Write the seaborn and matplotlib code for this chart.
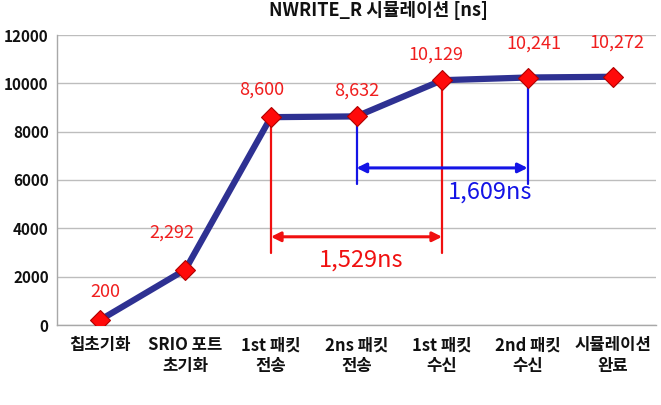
import matplotlib
matplotlib.use("Agg")
import matplotlib.pyplot as plt
import seaborn as sns
import pandas as pd
import numpy as np

# ---- data ----
categories = ["칩초기화", "SRIO 포트\n초기화", "1st 패킷\n전송", "2ns 패킷\n전송",
              "1st 패킷\n수신", "2nd 패킷\n수신", "시뮬레이션\n완료"]
times_ns = [200, 2292, 8600, 8632, 10129, 10241, 10272]
y_ticks = [0, 2000, 4000, 6000, 8000, 10000, 12000]
title = "NWRITE_R 시뮬레이션 [ns]"

# label offsets in pixels (dx, dy) - styling only
label_offsets_px = [(6, 28), (-14, 37), (-9, 28), (0, 26), (-6, 26), (6, 34), (4, 34)]

sns.set_theme(style="white")
plt.rcParams['font.family'] = ['Noto Sans CJK KR', 'DejaVu Sans']

df = pd.DataFrame({"pos": np.arange(len(categories)), "time": times_ns})

W, H = 661, 405
fig = plt.figure(figsize=(W / 100, H / 100), dpi=100)
ax = fig.add_axes([57 / W, (H - 325) / H, (656 - 57) / W, (325 - 35) / H])

line_color = "#2E3192"
sns.lineplot(data=df, x="pos", y="time", ax=ax, color=line_color, linewidth=4.5,
             marker="D", markersize=10, markerfacecolor="#FF0A0A",
             markeredgecolor="#B00000", markeredgewidth=0.8, zorder=5)

ax.set_xlim(-0.5, len(categories) - 0.5)
ax.set_ylim(0, 12000)
ax.set_yticks(y_ticks)
ax.set_yticklabels([str(t) for t in y_ticks], fontsize=11, fontweight="bold", color="#111111")
ax.set_xticks(np.arange(len(categories)))
ax.set_xticklabels(categories, fontsize=12, fontweight="bold", color="#111111", linespacing=1.2)
ax.set_xticks(np.arange(-0.5, len(categories)), minor=True)
ax.tick_params(axis="x", which="major", length=0, pad=8)
ax.tick_params(axis="x", which="minor", length=5, color="#A8A8A8", width=1, direction="out")
ax.tick_params(axis="y", length=4, color="#A8A8A8", width=1, direction="out", pad=2)
ax.set_xlabel("")
ax.set_ylabel("")

ax.grid(axis="y", color="#BDBDBD", linewidth=1)
ax.set_axisbelow(True)
for s in ["top", "right"]:
    ax.spines[s].set_visible(False)
for s in ["left", "bottom"]:
    ax.spines[s].set_color("#A8A8A8")
    ax.spines[s].set_linewidth(1)

# data labels
for i, v in enumerate(times_ns):
    dx, dy = label_offsets_px[i]
    ax.annotate(f"{v:,}", (i, v), xytext=(dx * 0.72, dy * 0.72), textcoords="offset points",
                ha="center", va="center", color="#F01E1E", fontsize=13, zorder=6)

# red interval (1st send -> 1st receive)
red = "#F01010"
d1 = times_ns[4] - times_ns[2]
ax.plot([2, 2], [times_ns[2], 2980], color=red, lw=1.6, zorder=3)
ax.plot([4, 4], [times_ns[4], 2980], color=red, lw=1.6, zorder=3)
ax.annotate("", xy=(4, 3650), xytext=(2, 3650),
            arrowprops=dict(arrowstyle="<|-|>", color=red, lw=2.2, shrinkA=0, shrinkB=0,
                            mutation_scale=14), zorder=4)
ax.text(3.05, 2690, f"{d1:,}ns", color=red, fontsize=17, ha="center", va="center")

# blue interval (2nd send -> 2nd receive)
blue = "#1414E6"
d2 = times_ns[5] - times_ns[3]
ax.plot([3, 3], [times_ns[3], 5850], color=blue, lw=1.6, zorder=3)
ax.plot([5, 5], [times_ns[5], 5850], color=blue, lw=1.6, zorder=3)
ax.annotate("", xy=(5, 6500), xytext=(3, 6500),
            arrowprops=dict(arrowstyle="<|-|>", color=blue, lw=2.2, shrinkA=0, shrinkB=0,
                            mutation_scale=14), zorder=4)
ax.text(4.56, 5500, f"{d2:,}ns", color=blue, fontsize=17, ha="center", va="center")

fig.text(378 / W, 1 - 1 / H, title, ha="center", va="top",
         fontsize=13, fontweight="bold", color="#111111")

fig.savefig("out.png", dpi=100, facecolor="white")
